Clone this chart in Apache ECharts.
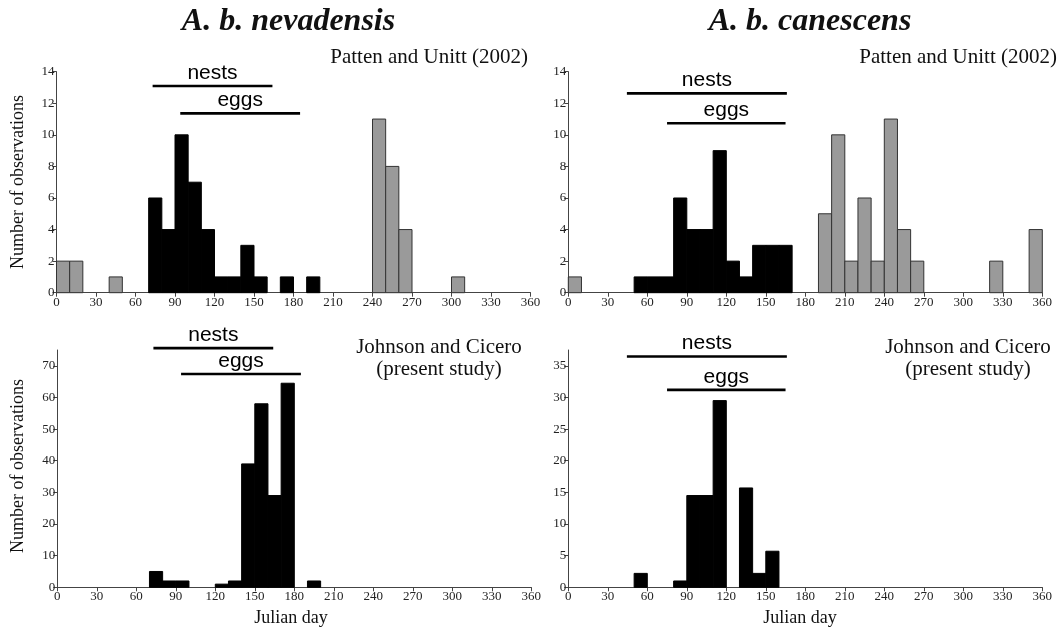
<!DOCTYPE html>
<html><head><meta charset="utf-8">
<script src="https://cdn.jsdelivr.net/npm/echarts@6/dist/echarts.min.js"></script>
<style>html,body{margin:0;padding:0;background:#fff}#c{width:1060px;height:633px}</style>
</head><body><div id="c"></div>
<script>
// ---- data ----
const binStart = [0,10,20,30,40,50,60,70,80,90,100,110,120,130,140,150,160,170,180,190,200,210,220,230,240,250,260,270,280,290,300,310,320,330,340,350];
const BIN = 10;
const xTicks = [0,30,60,90,120,150,180,210,240,270,300,330,360];
const yTicksPatten = [0,2,4,6,8,10,12,14];
const yTicksNevJohnson = [0,10,20,30,40,50,60,70];
const yTicksCanJohnson = [0,5,10,15,20,25,30,35];

// A. b. nevadensis, Patten and Unitt (2002)
const nevPattenBreeding = [0,0,0,0,0,0,0,6,4,10,7,4,1,1,3,1,0,1,0,1,0,0,0,0,0,0,0,0,0,0,0,0,0,0,0,0];
const nevPattenOther    = [2,2,0,0,1,0,0,0,0,0,0,0,0,0,0,0,0,0,0,0,0,0,0,0,11,8,4,0,0,0,1,0,0,0,0,0];
// A. b. canescens, Patten and Unitt (2002)
const canPattenBreeding = [0,0,0,0,0,1,1,1,6,4,4,9,2,1,3,3,3,0,0,0,0,0,0,0,0,0,0,0,0,0,0,0,0,0,0,0];
const canPattenOther    = [1,0,0,0,0,0,0,0,0,0,0,0,0,0,0,0,0,0,0,5,10,2,6,2,11,4,2,0,0,0,0,0,2,0,0,4];
// Johnson and Cicero (present study)
const nevJohnson = [0,0,0,0,0,0,0,5,2,2,0,0,1,2,39,58,29,64.5,0,2,0,0,0,0,0,0,0,0,0,0,0,0,0,0,0,0];
const canJohnson = [0,0,0,0,0,2.2,0,0,1,14.5,14.5,29.5,0,15.7,2.2,5.7,0,0,0,0,0,0,0,0,0,0,0,0,0,0,0,0,0,0,0,0];

// nesting / egg date ranges (Julian day)
const nevNests = [73, 164];
const nevEggs  = [94, 185];
const canNests = [44.5, 166];
const canEggs  = [75, 165];

// ---- layout / style ----
const SERIF = '"Liberation Serif", "Times New Roman", serif';
const SANS = '"Liberation Sans", Arial, sans-serif';
const AXIS_COLOR = '#444';
const GRAY = '#9a9a9a';

const grids = [
  {left: 56.5, top: 71.7, width: 474, height: 221},
  {left: 568.3, top: 71.7, width: 474, height: 221},
  {left: 57.3, top: 350, width: 474, height: 237.3},
  {left: 568.3, top: 350, width: 474, height: 237.3}
];
const yCfg = [
  {max: 14, ticks: yTicksPatten},
  {max: 14, ticks: yTicksPatten},
  {max: 75, ticks: yTicksNevJohnson},
  {max: 37.5, ticks: yTicksCanJohnson}
];

function barSeries(g, values, fill, stroke) {
  return {
    type: 'custom', xAxisIndex: g, yAxisIndex: g, silent: true,
    data: binStart.map((s, i) => [s, values[i]]).filter(d => d[1] > 0),
    encode: {x: 0, y: 1},
    renderItem: (params, api) => {
      const s = api.value(0), v = api.value(1);
      const p0 = api.coord([s, 0]), p1 = api.coord([s + BIN, v]);
      return {type: 'rect',
        shape: {x: p0[0], y: p1[1], width: p1[0] - p0[0], height: p0[1] - p1[1]},
        style: {fill: fill, stroke: stroke, lineWidth: 1}};
    }
  };
}
function rangeSeries(g, range, level, label) {
  return {
    type: 'custom', xAxisIndex: g, yAxisIndex: g, silent: true, clip: false,
    data: [[range[0], range[1], level]],
    encode: {x: [0, 1], y: 2},
    renderItem: (params, api) => {
      const a = api.coord([api.value(0), api.value(2)]);
      const b = api.coord([api.value(1), api.value(2)]);
      return {type: 'group', children: [
        {type: 'line', shape: {x1: a[0], y1: a[1], x2: b[0], y2: b[1]},
          style: {stroke: '#000', lineWidth: 2.6}},
        {type: 'text', style: {text: label, x: (a[0] + b[0]) / 2, y: a[1] - 2.5,
          align: 'center', verticalAlign: 'bottom', textAlign: 'center', textVerticalAlign: 'bottom',
          font: '21px ' + SANS, fill: '#000'}}
      ]};
    }
  };
}

const xAxes = grids.map((g, i) => ({
  type: 'value', gridIndex: i, min: 0, max: 360, interval: 30,
  axisLine: {show: true, lineStyle: {color: AXIS_COLOR, width: 1}},
  axisTick: {show: true, length: 4, lineStyle: {color: AXIS_COLOR}, customValues: xTicks},
  axisLabel: {fontFamily: SERIF, fontSize: 13, color: '#222', margin: 3, customValues: xTicks},
  splitLine: {show: false}
}));
const yAxes = yCfg.map((c, i) => ({
  type: 'value', gridIndex: i, min: 0, max: c.max,
  axisLine: {show: true, lineStyle: {color: AXIS_COLOR, width: 1}},
  axisTick: {show: true, length: 4, lineStyle: {color: AXIS_COLOR}, customValues: c.ticks},
  axisLabel: {fontFamily: SERIF, fontSize: 13, color: '#222', margin: 2, customValues: c.ticks},
  splitLine: {show: false}
}));

const series = [
  barSeries(0, nevPattenOther, GRAY, '#333'),
  barSeries(0, nevPattenBreeding, '#000', '#000'),
  barSeries(1, canPattenOther, GRAY, '#333'),
  barSeries(1, canPattenBreeding, '#000', '#000'),
  barSeries(2, nevJohnson, '#000', '#000'),
  barSeries(3, canJohnson, '#000', '#000'),
  rangeSeries(0, nevNests, 13.09, 'nests'),
  rangeSeries(0, nevEggs, 11.36, 'eggs'),
  rangeSeries(1, canNests, 12.63, 'nests'),
  rangeSeries(1, canEggs, 10.73, 'eggs'),
  rangeSeries(2, nevNests, 75.6, 'nests'),
  rangeSeries(2, nevEggs, 67.4, 'eggs'),
  rangeSeries(3, canNests, 36.47, 'nests'),
  rangeSeries(3, canEggs, 31.2, 'eggs')
];

function txt(text, x, y, font, align, rot) {
  return {type: 'text', x: x, y: y, rotation: rot || 0, silent: true,
    style: {text: text, x: 0, y: 0, font: font, fill: '#111',
      align: align || 'center', verticalAlign: 'middle', textAlign: align || 'center', textVerticalAlign: 'middle'}};
}
const graphic = [
  txt('A. b. nevadensis', 288.5, 22, 'italic bold 32px ' + SERIF),
  txt('A. b. canescens', 810, 22, 'italic bold 32px ' + SERIF),
  txt('Patten and Unitt (2002)', 528, 57, '21px ' + SERIF, 'right'),
  txt('Patten and Unitt (2002)', 1057, 57, '21px ' + SERIF, 'right'),
  txt('Johnson and Cicero', 439, 347, '21px ' + SERIF),
  txt('(present study)', 439, 369, '21px ' + SERIF),
  txt('Johnson and Cicero', 968, 347, '21px ' + SERIF),
  txt('(present study)', 968, 369, '21px ' + SERIF),
  txt('Number of observations', 18.5, 182, '18px ' + SERIF, 'center', Math.PI / 2),
  txt('Number of observations', 18.5, 466, '18px ' + SERIF, 'center', Math.PI / 2),
  txt('Julian day', 291, 618, '18px ' + SERIF),
  txt('Julian day', 800, 618, '18px ' + SERIF)
];

const chart = echarts.init(document.getElementById('c'));
chart.setOption({
  backgroundColor: '#fff',
  animation: false,
  grid: grids,
  xAxis: xAxes,
  yAxis: yAxes,
  series: series,
  graphic: graphic
});
</script>
</body></html>
